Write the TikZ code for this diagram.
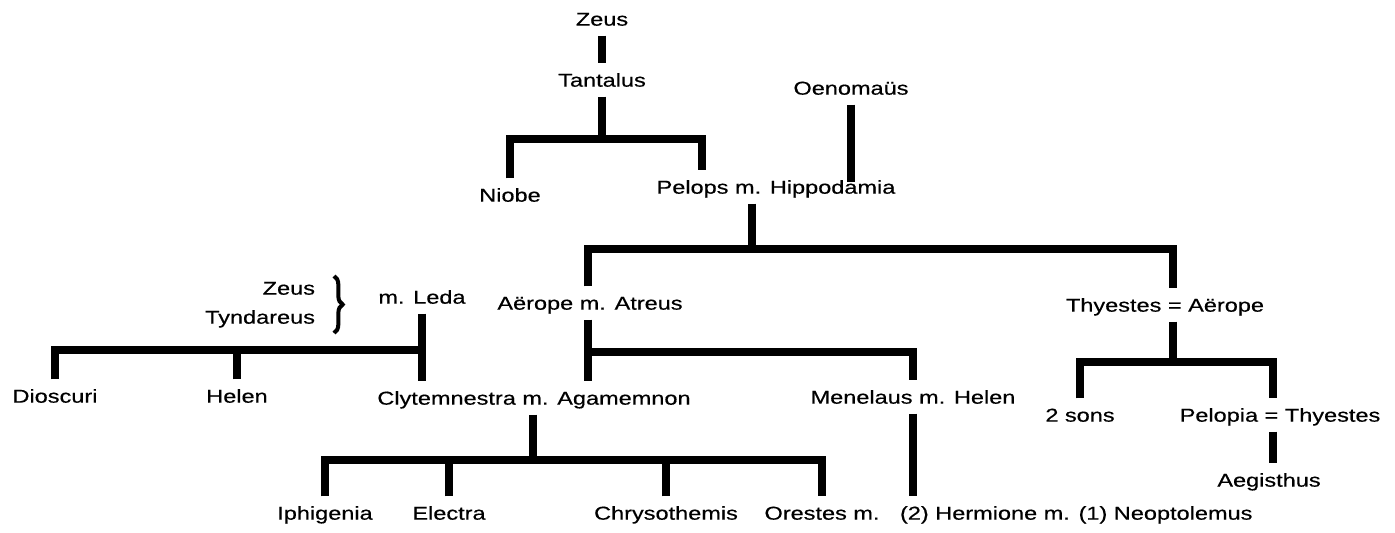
\documentclass[tikz,border=0pt]{standalone}
\usepackage{fontspec}
\setmainfont{Liberation Sans}[FakeStretch=1.26, FakeBold=0.5]
\usepackage{tikz}
\usetikzlibrary{decorations.pathreplacing}

\begin{document}
\begin{tikzpicture}[x=0.75pt, y=-0.75pt,
    nm/.style={inner sep=0pt, outer xsep=0pt, outer ysep=7.5pt, text height=10pt, text depth=0pt,
      font=\fontsize{14pt}{16pt}\selectfont},
    bar/.style={line width=5.5pt, line join=miter, line cap=butt},
    brc/.style={line width=3pt, decorate, decoration={brace, amplitude=6.5pt}}]
  \useasboundingbox (0,0) rectangle (1395,532);
  % house of Tantalus
  \node[nm] (zeus) at (602,19) {Zeus};
  \node[nm] (tantalus) at (602,80) {Tantalus};
  \node[nm] (oenomaus) at (851,88) {Oenomaüs};
  \node[nm] (niobe) at (510,195) {Niobe};
  \node[nm] (pelops) at (776,187) {Pelops m. Hippodamia};
  \node[nm] (atreus) at (590,303) {Aërope m. Atreus};
  \node[nm] (thyestes) at (1165,305) {Thyestes = Aërope};
  % Leda's side
  \node[nm, anchor=east] (zeusb) at (315,288) {Zeus};
  \node[nm, anchor=east] (tyndareus) at (315,317) {Tyndareus};
  \node[nm] (leda) at (422,297) {m. Leda};
  \node[nm] (dioscuri) at (55,396) {Dioscuri};
  \node[nm] (helen) at (237,396) {Helen};
  \node[nm] (clyt) at (534,398) {Clytemnestra m. Agamemnon};
  \node[nm] (menelaus) at (913,397) {Menelaus m. Helen};
  \node[nm] (sons) at (1080,415) {2 sons};
  \node[nm] (pelopia) at (1280,415) {Pelopia = Thyestes};
  \node[nm] (aegisthus) at (1269,480) {Aegisthus};
  % last generation
  \node[nm] (iphigenia) at (325,513) {Iphigenia};
  \node[nm] (electra) at (449,513) {Electra};
  \node[nm] (chryso) at (666,513) {Chrysothemis};
  \node[nm] (orestes) at (822,513) {Orestes m.};
  \node[nm, anchor=west] (hermione) at (900,513) {(2) Hermione m. (1) Neoptolemus};

  % junctions
  \coordinate (tj) at (602,139);
  \coordinate (pk) at (702,139);
  \coordinate (pa) at (752,249);
  \coordinate (ba) at (588,249);
  \coordinate (bt) at (1173,249);
  \coordinate (tt) at (1173,362);
  \coordinate (tp) at (1273,362);
  \coordinate (am) at (588,352);
  \coordinate (lc) at (422,350);
  \coordinate (cc) at (533,460);
  \coordinate (bz) at (334,276);
  \coordinate (by) at (334,333);

  \draw[bar] (zeus.south) -- (tantalus.north);
  \draw[bar] (tantalus.south) -- (tj);
  \draw[bar] (niobe.north) |- (pk) -- (pelops.north -| pk);
  \draw[bar, shorten >=-9pt] (oenomaus.south) -- (pelops.north -| oenomaus);
  \draw[bar] (pelops.south -| pa) -- (pa);
  \draw[bar] (atreus.north -| ba) -- (ba) -- (bt) -- (thyestes.north -| bt);
  \draw[bar] (thyestes.south -| bt) -- (tt);
  \draw[bar] (sons.north) |- (tp) -- (pelopia.north -| tp);
  \draw[bar] (pelopia.south -| tp) -- (aegisthus.north -| tp);
  \draw[bar] (atreus.south -| ba) -- (clyt.north -| ba);
  \draw[bar] (am) -| (menelaus.north);
  \draw[bar] (menelaus.south) -- (hermione.north -| menelaus);
  \draw[bar] (leda.south) -- (clyt.north -| leda);
  \draw[bar] (dioscuri.north) |- (lc);
  \draw[bar] (helen.north) -- (helen |- lc);
  \draw[bar] (clyt.south -| cc) -- (cc);
  \draw[bar] (iphigenia.north) |- (cc -| orestes) -- (orestes.north);
  \draw[bar] (electra.north) -- (electra |- cc);
  \draw[bar] (chryso.north) -- (chryso |- cc);
  \draw[brc] (bz) -- (by);
\end{tikzpicture}
\end{document}
